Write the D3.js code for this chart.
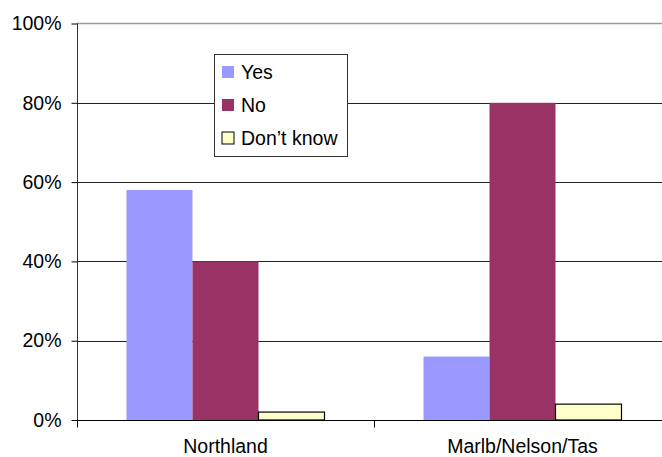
<!DOCTYPE html>
<html>
<head>
<meta charset="utf-8">
<script src="https://cdn.jsdelivr.net/npm/d3@7/dist/d3.min.js"></script>
<style>
  html, body { margin: 0; padding: 0; background: #fff; }
  svg { display: block; font-family: "Liberation Sans", Arial, sans-serif; }
</style>
</head>
<body>
<svg id="chart" width="662" height="457"></svg>
<script>
// Survey responses by region (percent)
const categories = ["Northland", "Marlb/Nelson/Tas"];
const seriesNames = ["Yes", "No", "Don\u2019t know"];
const yesValues = [58, 16];
const noValues = [40, 80];
const dontKnowValues = [2, 4];
const yTicks = [0, 20, 40, 60, 80, 100];
const seriesColors = ["#9999FF", "#993366", "#FFFFCC"];

const seriesValues = [yesValues, noValues, dontKnowValues];

const svg = d3.select("#chart");
const FONT = 19.5;
const margin = { left: 77, right: -9, top: 23.5, bottom: 37 };
const W = 662, H = 457;
const plotL = margin.left, plotR = W - margin.right;
const plotT = margin.top, plotB = H - margin.bottom;

const x = d3.scaleBand().domain(categories).range([plotL, plotR]).paddingInner(0).paddingOuter(0);
const y = d3.scaleLinear().domain([0, 100]).range([plotB, plotT]);

// three bars per category, with 1.5 bar-widths of gap shared around them
const barW = x.bandwidth() / 4.5;
const xs = d3.scaleBand().domain(d3.range(seriesNames.length))
  .range([0, barW * 3]);

// gridlines
svg.append("g").selectAll("line")
  .data(yTicks.filter(t => t > 0 && t < 100))
  .join("line")
  .attr("x1", plotL).attr("x2", plotR)
  .attr("y1", d => Math.round(y(d)) + 0.5).attr("y2", d => Math.round(y(d)) + 0.5)
  .attr("stroke", "#222").attr("stroke-width", 1);

// top border of plot area
svg.append("line")
  .attr("x1", plotL).attr("x2", plotR)
  .attr("y1", y(100)).attr("y2", y(100))
  .attr("stroke", "#9a9a9a").attr("stroke-width", 1.5);

// bars
const groups = svg.append("g").selectAll("g")
  .data(categories)
  .join("g")
  .attr("transform", c => `translate(${x(c) + (x.bandwidth() - barW * 3) / 2},0)`);

groups.selectAll("rect")
  .data((c, ci) => seriesValues.map((vals, si) => ({ si, v: vals[ci] })))
  .join("rect")
  .attr("x", d => xs(d.si))
  .attr("width", xs.bandwidth())
  .attr("y", d => y(d.v))
  .attr("height", d => y(0) - y(d.v))
  .attr("fill", d => seriesColors[d.si])
  .attr("stroke", d => d.si === 2 ? "#000" : "none")
  .attr("stroke-width", 1.2);

// y axis
const yAxis = d3.axisLeft(y).tickValues(yTicks).tickFormat(d => d + "%").tickSize(6).tickPadding(10);
const yg = svg.append("g").attr("transform", `translate(${plotL + 0.5},0)`).call(yAxis);
yg.select(".domain").attr("stroke", "#333").attr("d", `M0,${plotT}V${plotB + 7}`);
yg.selectAll(".tick line").attr("stroke", "#000");
yg.selectAll(".tick text").attr("font-size", FONT).attr("fill", "#000")
  .attr("font-family", "'Liberation Sans', Arial, sans-serif");

// x axis
const xg = svg.append("g").attr("transform", `translate(0,${Math.round(plotB) + 0.5})`);
xg.append("line").attr("x1", plotL).attr("x2", plotR).attr("stroke", "#000");
const boundaries = [plotL].concat(categories.map(c => x(c) + x.bandwidth()));
xg.selectAll("line.tk").data(boundaries).join("line").attr("class", "tk")
  .attr("x1", d => Math.round(d) + 0.5).attr("x2", d => Math.round(d) + 0.5)
  .attr("y1", 0).attr("y2", 7).attr("stroke", "#000");
xg.selectAll("text").data(categories).join("text")
  .attr("x", c => x(c) + x.bandwidth() / 2)
  .attr("y", 32.5)
  .attr("text-anchor", "middle")
  .attr("font-size", FONT)
  .text(c => c);

// legend
const lg = svg.append("g").attr("transform", "translate(214,54)");
lg.append("rect").attr("x", 0.5).attr("y", 0.5).attr("width", 133).attr("height", 102)
  .attr("fill", "#fff").attr("stroke", "#333");
const items = lg.selectAll("g.item").data(seriesNames).join("g").attr("class", "item")
  .attr("transform", (d, i) => `translate(0,${18 + i * 33})`);
items.append("rect")
  .attr("x", 8).attr("y", -6).attr("width", 12).attr("height", 12)
  .attr("fill", (d, i) => seriesColors[i])
  .attr("stroke", (d, i) => i === 2 ? "#000" : "none");
items.append("text")
  .attr("x", 27).attr("y", 0).attr("dy", "0.35em")
  .attr("font-size", FONT)
  .text(d => d);
</script>
</body>
</html>
